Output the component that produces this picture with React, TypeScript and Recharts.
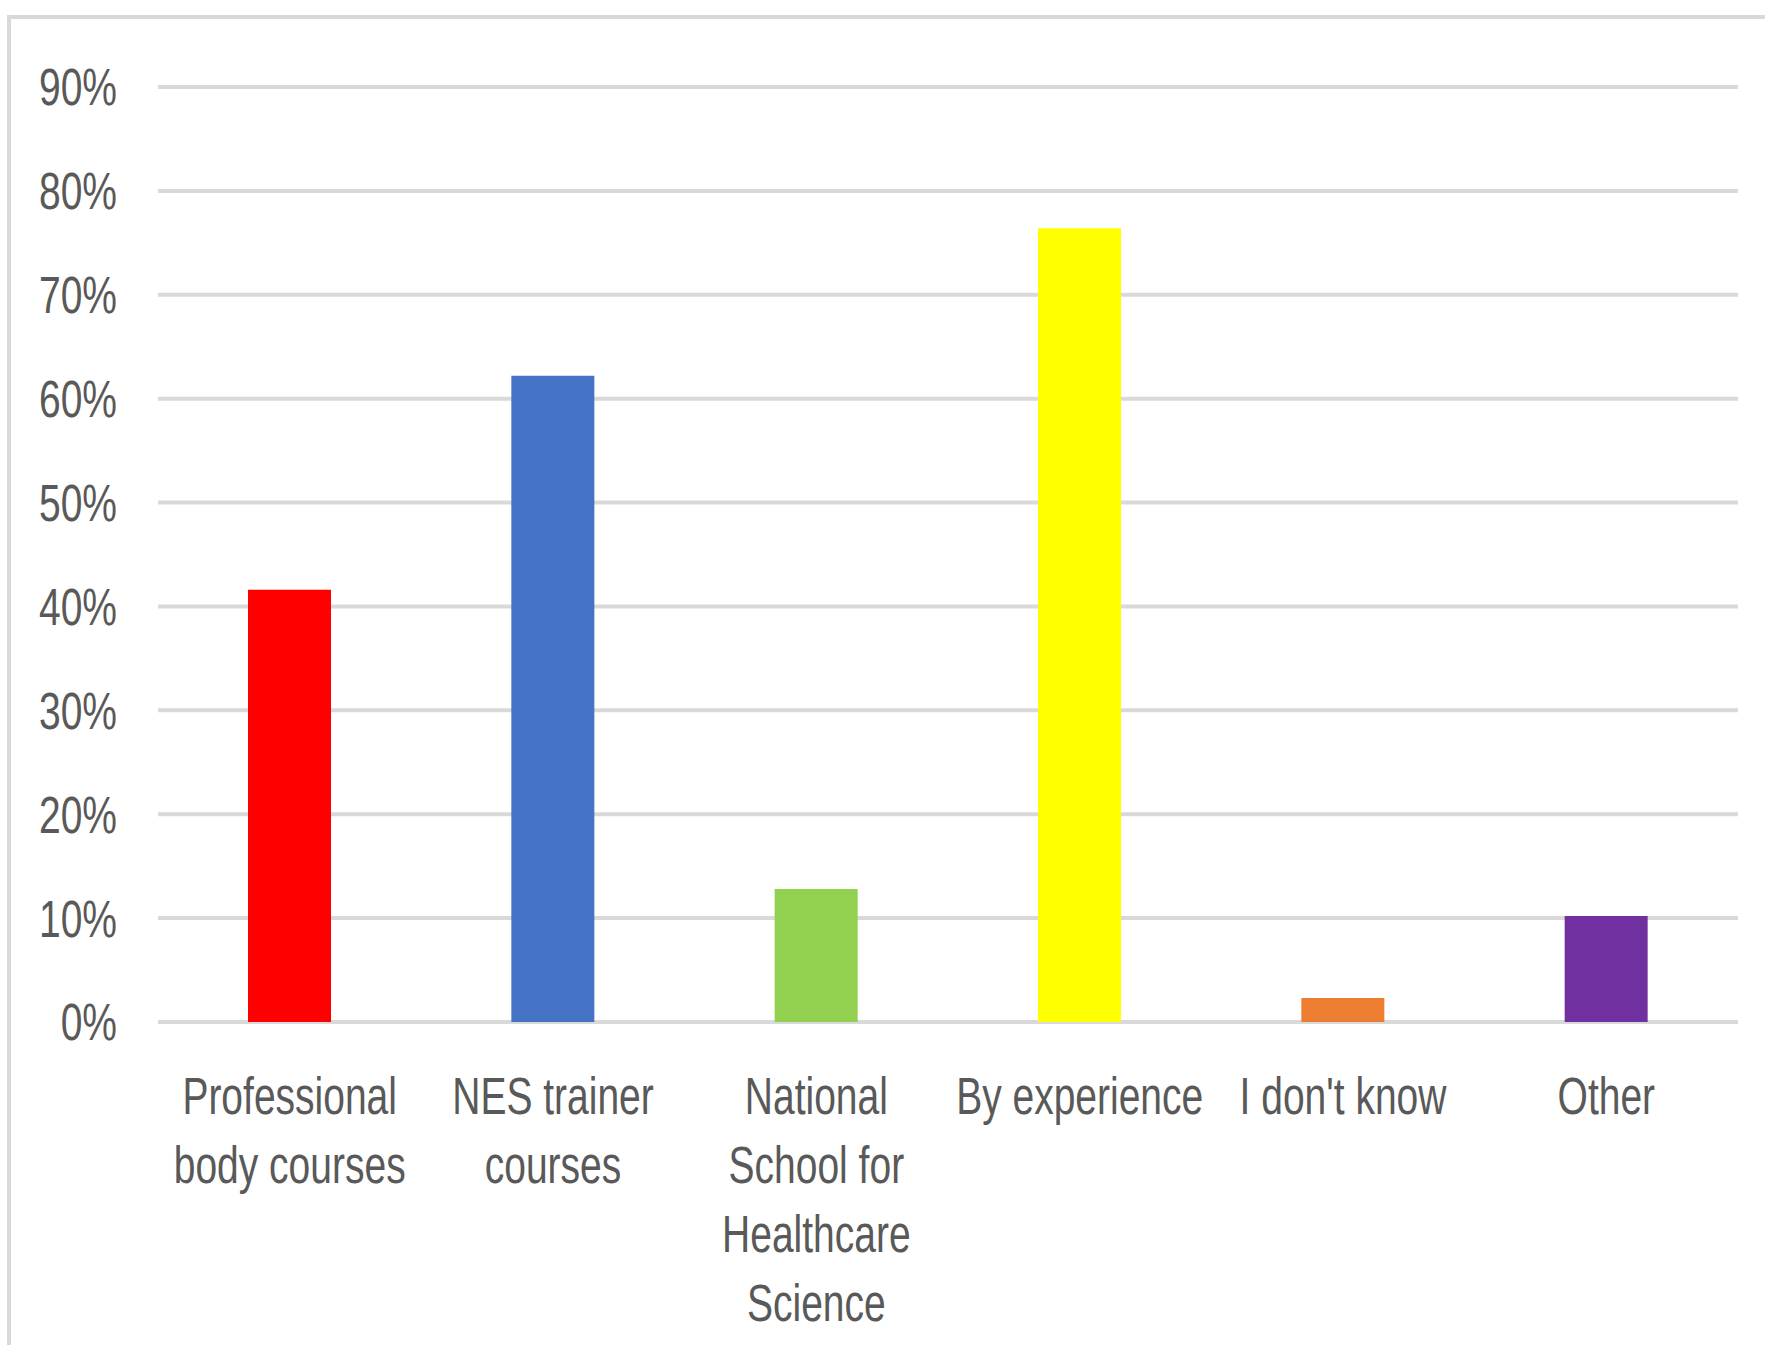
import { BarChart, Bar, XAxis, YAxis, CartesianGrid, Cell } from 'recharts'

/** categories (line breaks as in the original labels) */
const categories = [
  'Professional\nbody courses',
  'NES trainer\ncourses',
  'National\nSchool for\nHealthcare\nScience',
  'By experience',
  "I don't know",
  'Other',
]

/** share of respondents, 0..1 */
const shares = [0.416, 0.622, 0.128, 0.764, 0.023, 0.102]

const barColors = ['#ff0000', '#4472c4', '#92d050', '#ffff00', '#ed7d31', '#7030a0']

const yTicks = [0, 0.1, 0.2, 0.3, 0.4, 0.5, 0.6, 0.7, 0.8, 0.9]

const data = categories.map((name, i) => ({ name, value: shares[i] }))

// Calibri-like look: Liberation Sans squeezed horizontally
const FONT = '"Liberation Sans", Arial, sans-serif'
const FONT_SIZE = 52
const SQUEEZE = 0.75
const TEXT = '#595959'

function CategoryTick(props: any) {
  const { x, y, payload } = props
  const lines = String(payload.value).split('\n')
  return (
    <g transform={`translate(${x},${y}) scale(${SQUEEZE},1)`}>
      <text x={0} y={0} textAnchor="middle" fill={TEXT} fontFamily={FONT} fontSize={FONT_SIZE}>
        {lines.map((line, i) => (
          <tspan key={i} x={0} dy={i === 0 ? 90 : 69}>
            {line}
          </tspan>
        ))}
      </text>
    </g>
  )
}

function PercentTick(props: any) {
  const { x, y, payload } = props
  return (
    <g transform={`translate(${x},${y}) scale(${SQUEEZE},1)`}>
      <text x={0} y={0} dy="0.355em" textAnchor="end" fill={TEXT} fontFamily={FONT} fontSize={FONT_SIZE}>
        {`${Math.round(payload.value * 100)}%`}
      </text>
    </g>
  )
}

export default function App() {
  return (
    <div
      style={{
        position: 'absolute',
        left: 0,
        top: 0,
        width: 1765,
        height: 1345,
        overflow: 'hidden',
        background: '#ffffff',
      }}
    >
      <div
        style={{
          position: 'absolute',
          left: 7,
          top: 15,
          width: 2000,
          height: 2000,
          border: '4px solid #d9d9d9',
        }}
      />
      <div style={{ position: 'absolute', left: 0, top: 0 }}>
        <BarChart
          width={1765}
          height={1345}
          data={data}
          margin={{ top: 87, right: 27, left: 0, bottom: 23 }}
        >
          <CartesianGrid vertical={false} stroke="#d9d9d9" strokeWidth={4} />
          <XAxis
            dataKey="name"
            axisLine={false}
            tickLine={false}
            tickSize={0}
            height={300}
            interval={0}
            tick={<CategoryTick />}
          />
          <YAxis
            width={158}
            domain={[0, 0.9]}
            ticks={yTicks}
            axisLine={false}
            tickLine={false}
            tickSize={0}
            tickMargin={41}
            tick={<PercentTick />}
          />
          <Bar dataKey="value" barSize={83} isAnimationActive={false}>
            {data.map((_d, i) => (
              <Cell key={`cell-${i}`} fill={barColors[i]} />
            ))}
          </Bar>
        </BarChart>
      </div>
    </div>
  )
}
